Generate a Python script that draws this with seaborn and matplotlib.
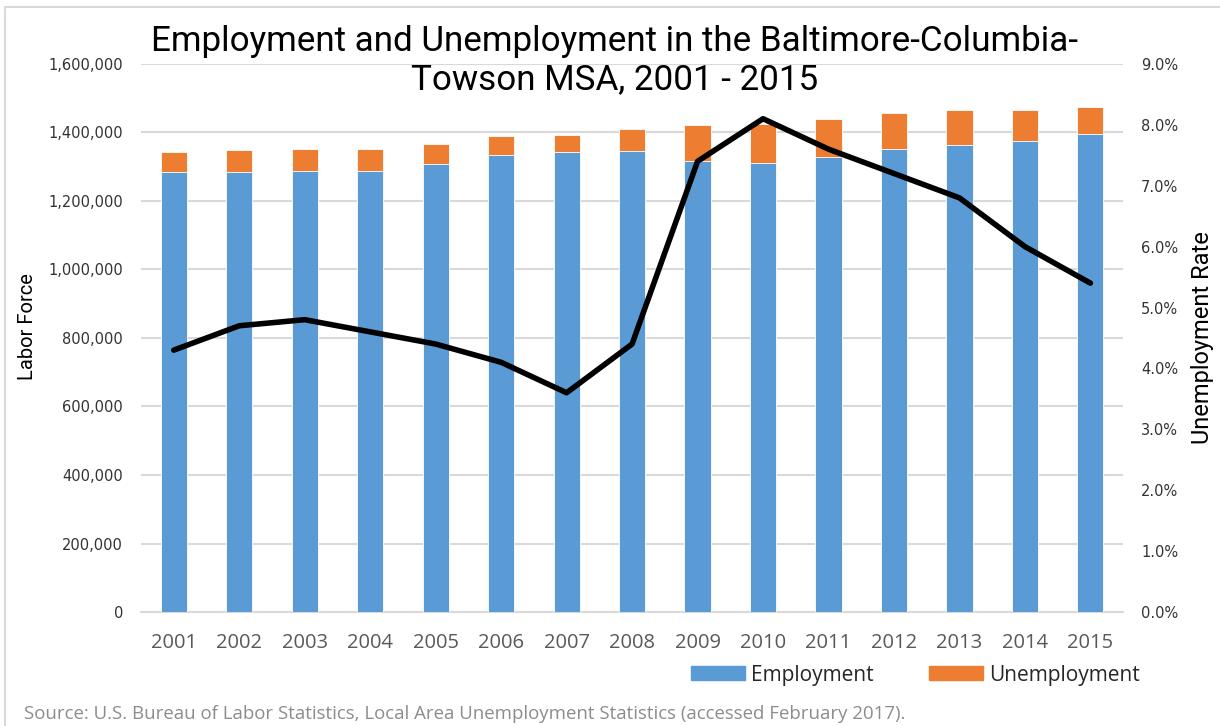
import matplotlib.pyplot as plt
import matplotlib.patches as mpatches
from matplotlib.ticker import FuncFormatter
import seaborn as sns
import pandas as pd

# values
years = [str(y) for y in range(2001, 2016)]
employment = [1285500, 1285600, 1286700, 1288600, 1307000, 1333000, 1343000, 1346000,
              1317000, 1310000, 1329000, 1351000, 1362000, 1375000, 1394000]
unemployment = [57500, 63400, 64300, 62400, 60000, 56000, 50000, 63000,
                106000, 115500, 109000, 105000, 102000, 89000, 80000]
unemp_rate = [4.3, 4.7, 4.8, 4.6, 4.4, 4.1, 3.6, 4.4, 7.4, 8.1, 7.6, 7.2, 6.8, 6.0, 5.4]

BLUE = "#5B9BD5"
ORANGE = "#ED7D31"
GRID = "#D9D9D9"
NARROW = ["Roboto", "Open Sans", "DejaVu Sans"]

df = pd.DataFrame({"Year": years, "Employment": employment, "Unemployment": unemployment,
                   "Rate": unemp_rate})
df["Total"] = df["Employment"] + df["Unemployment"]

sns.set_theme(style="white")
plt.rcParams["font.family"] = ["Open Sans", "DejaVu Sans"]

fig = plt.figure(figsize=(12.2, 7.26), dpi=100)
ax = fig.add_axes([0.1156, 0.157, 0.805, 0.755])

# stacked bars: total (orange) behind, employment (blue) in front
sns.barplot(data=df, x="Year", y="Total", color=ORANGE, width=0.4, saturation=1,
            edgecolor="white", linewidth=0.6, ax=ax, zorder=3)
sns.barplot(data=df, x="Year", y="Employment", color=BLUE, width=0.4, saturation=1,
            edgecolor="white", linewidth=0.6, ax=ax, zorder=3)

ax.set_ylim(0, 1600000)
ax.set_xlim(-0.5, len(years) - 0.5)
ax.set_yticks(range(0, 1600001, 200000))
ax.yaxis.set_major_formatter(FuncFormatter(lambda v, p: f"{int(v):,}"))
ax.grid(axis="y", color=GRID, lw=1.5, zorder=0)
ax.set_axisbelow(True)
for s in ["top", "right", "left"]:
    ax.spines[s].set_visible(False)
ax.spines["bottom"].set_color(GRID)
ax.spines["bottom"].set_linewidth(1.5)
ax.tick_params(axis="y", length=0, pad=13, labelsize=10.5, labelcolor="#333333")
ax.tick_params(axis="x", length=0, pad=15, labelsize=14.5, labelcolor="#595959")
for t in ax.get_yticklabels():
    t.set_fontfamily("DejaVu Sans")
ax.set_xlabel("")
ax.set_ylabel("Labor Force", fontsize=14.5, fontfamily=NARROW, color="black")
ax.yaxis.set_label_coords(-0.106, 0.52)

# unemployment rate line on the secondary axis
ax2 = ax.twinx()
sns.pointplot(data=df, x="Year", y="Rate", color="black", markers="", linestyles="-",
              linewidth=4, errorbar=None, ax=ax2)
ax2.set_ylim(0, 9)
ax2.set_yticks(range(0, 10))
ax2.yaxis.set_major_formatter(FuncFormatter(lambda v, p: f"{v:.1f}%"))
for s in ax2.spines.values():
    s.set_visible(False)
ax2.tick_params(axis="y", length=0, pad=13, labelsize=10.5, labelcolor="#333333")
for t in ax2.get_yticklabels():
    t.set_fontfamily("DejaVu Sans")
ax2.set_ylabel("Unemployment Rate", fontsize=17, fontfamily=NARROW, color="black")
ax2.yaxis.set_label_coords(1.069, 0.5)
ax2.set_xlim(-0.5, len(years) - 0.5)
ax2.set_xlabel("")

fig.text(0.504, 0.916, "Employment and Unemployment in the Baltimore-Columbia-\nTowson MSA, 2001 - 2015",
         ha="center", va="center", fontsize=25.2, linespacing=1.2, color="black",
         fontfamily=NARROW)

handles = [mpatches.Patch(color=BLUE, label="Employment"),
           mpatches.Patch(color=ORANGE, label="Unemployment")]
fig.legend(handles=handles, loc="center", bbox_to_anchor=(0.7504, 0.07), ncol=2,
           frameon=False, handlelength=2.6, handleheight=0.65,
           handletextpad=0.3, columnspacing=2.65, prop={"family": "Open Sans", "size": 15})

fig.text(0.02, 0.0165, "Source: U.S. Bureau of Labor Statistics, Local Area Unemployment Statistics (accessed February 2017).",
         ha="left", va="center", fontsize=13.4, color="#8C8C8C")

# light frame around the chart area
fig.patches.append(mpatches.Rectangle((0.004, -0.1), 1.1, 1.09, transform=fig.transFigure,
                                      fill=False, edgecolor=GRID, lw=1.5))

fig.savefig("out.png", dpi=100)
